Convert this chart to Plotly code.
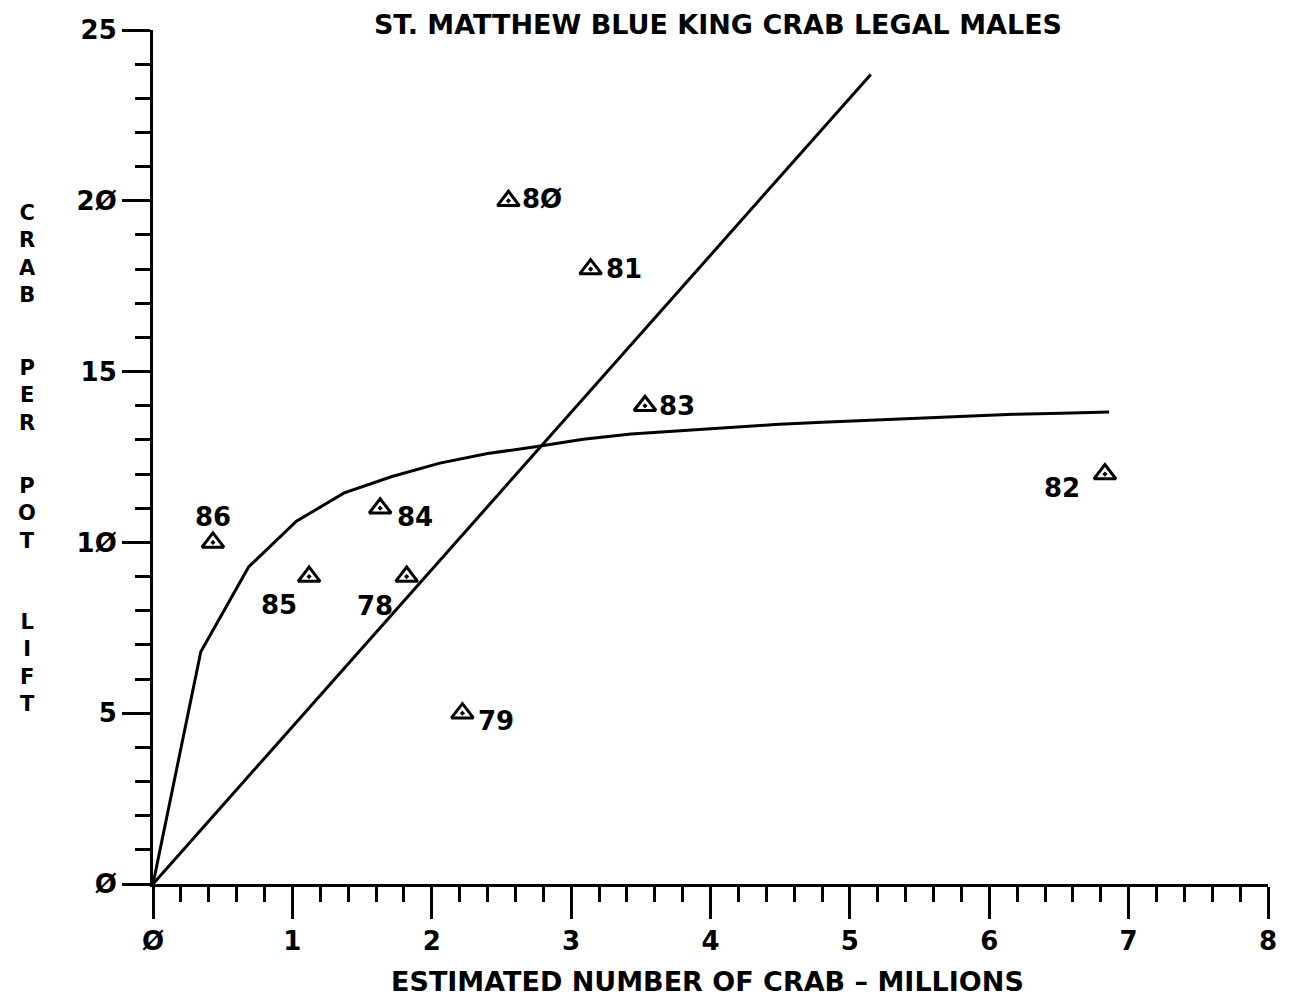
import plotly.graph_objects as go

# ---- data ----
years = ["78", "79", "8Ø", "81", "82", "83", "84", "85", "86"]
est_crab = [1.82, 2.22, 2.55, 3.14, 6.83, 3.53, 1.63, 1.12, 0.43]
cpue = [9.0, 5.0, 20.0, 18.0, 12.0, 14.0, 11.0, 9.0, 10.0]

curve_x = [0.0, 0.343, 0.686, 1.029, 1.372, 1.715, 2.058, 2.401, 2.744, 3.087,
           3.43, 3.773, 4.116, 4.459, 4.802, 5.145, 5.488, 5.831, 6.174, 6.517, 6.86]
curve_y = [0.0, 6.8, 9.28, 10.62, 11.45, 11.93, 12.32, 12.6, 12.8, 13.02,
           13.17, 13.27, 13.36, 13.45, 13.52, 13.58, 13.64, 13.7, 13.75, 13.78, 13.82]

line_x = [0.0, 5.15]
line_y = [0.0, 23.7]

x_tickvals = [0, 1, 2, 3, 4, 5, 6, 7, 8]
x_ticktext = ["Ø", "1", "2", "3", "4", "5", "6", "7", "8"]
y_tickvals = [0, 5, 10, 15, 20, 25]
y_ticktext = ["Ø", "5", "1Ø", "15", "2Ø", "25"]

title_text = "ST. MATTHEW BLUE KING CRAB LEGAL MALES"
xtitle_text = "ESTIMATED NUMBER OF CRAB – MILLIONS"
ytitle_words = ["CRAB", "PER", "POT", "LIFT"]
# vertical pixel centres of each stacked word
ytitle_centres = [254, 395, 513, 663]

# label placement (pixel offsets, anchor)
label_style = {
    "78": (-32, -29, "center"),
    "79": (14, -8, "left"),
    "8Ø": (12, 2, "left"),
    "81": (13, 0, "left"),
    "82": (-43, -14, "center"),
    "83": (12, 0, "left"),
    "84": (15, -9, "left"),
    "85": (-30, -28, "center"),
    "86": (0, 25, "center"),
}

FONT = "DejaVu Sans"
INK = "black"

# plot area in pixels
L, R, T, B = 153, 19, 30, 114
W, H = 1289, 998
PW, PH = W - L - R, H - T - B


def px_to_paper(px, py):
    return (px - L) / PW, (H - B - py) / PH


fig = go.Figure()
fig.add_trace(go.Scatter(x=curve_x, y=curve_y, mode="lines",
                         line=dict(color=INK, width=3), hoverinfo="skip"))
fig.add_trace(go.Scatter(x=line_x, y=line_y, mode="lines",
                         line=dict(color=INK, width=3), hoverinfo="skip"))
fig.add_trace(go.Scatter(x=est_crab, y=cpue, mode="markers",
                         marker=dict(symbol="triangle-up-open-dot", size=19,
                                     color=INK, line=dict(color=INK, width=3))))

for yr, xv, yv in zip(years, est_crab, cpue):
    dx, dy, anc = label_style[yr]
    fig.add_annotation(x=xv, y=yv, xref="x", yref="y", text=yr, showarrow=False,
                       xshift=dx, yshift=dy, xanchor=anc, yanchor="middle",
                       font=dict(family=FONT, size=26, color=INK, weight="bold"))

# x-axis title
ax, ay = px_to_paper(708, 982)
fig.add_annotation(x=ax, y=ay, xref="paper", yref="paper", text=xtitle_text,
                   showarrow=False, xanchor="center", yanchor="middle",
                   font=dict(family=FONT, size=27, color=INK, weight="bold"))

# vertical stacked y-axis title, one annotation per word
for word, yc in zip(ytitle_words, ytitle_centres):
    wx, wy = px_to_paper(27, yc)
    fig.add_annotation(x=wx, y=wy, xref="paper", yref="paper",
                       text="<br>".join(word), showarrow=False,
                       xanchor="center", yanchor="middle",
                       font=dict(family=FONT, size=21, color=INK, weight="bold"))

fig.update_layout(
    width=W, height=H,
    margin=dict(l=L, r=R, t=T, b=B),
    paper_bgcolor="white", plot_bgcolor="white",
    showlegend=False,
    title=dict(text=title_text, x=718 / W, xref="container", xanchor="center",
               y=1 - 25 / H, yref="container", yanchor="middle",
               font=dict(family=FONT, size=27, color=INK, weight="bold")),
    xaxis=dict(range=[0, 8], showgrid=False, zeroline=False,
               showline=True, linecolor=INK, linewidth=3,
               ticks="outside", ticklen=32, tickwidth=3, tickcolor=INK,
               tickvals=x_tickvals, ticktext=x_ticktext,
               tickfont=dict(family=FONT, size=26, color=INK, weight="bold"),
               minor=dict(dtick=0.2, tick0=0, ticks="outside", ticklen=15,
                          tickwidth=3, tickcolor=INK, showgrid=False)),
    yaxis=dict(range=[0, 25], showgrid=False, zeroline=False,
               showline=True, linecolor=INK, linewidth=3,
               ticks="outside", ticklen=28, tickwidth=3, tickcolor=INK,
               tickvals=y_tickvals, ticktext=y_ticktext,
               tickfont=dict(family=FONT, size=26, color=INK, weight="bold"),
               minor=dict(dtick=1, tick0=0, ticks="outside", ticklen=15,
                          tickwidth=3, tickcolor=INK, showgrid=False)),
)

fig.write_html("out.html")
